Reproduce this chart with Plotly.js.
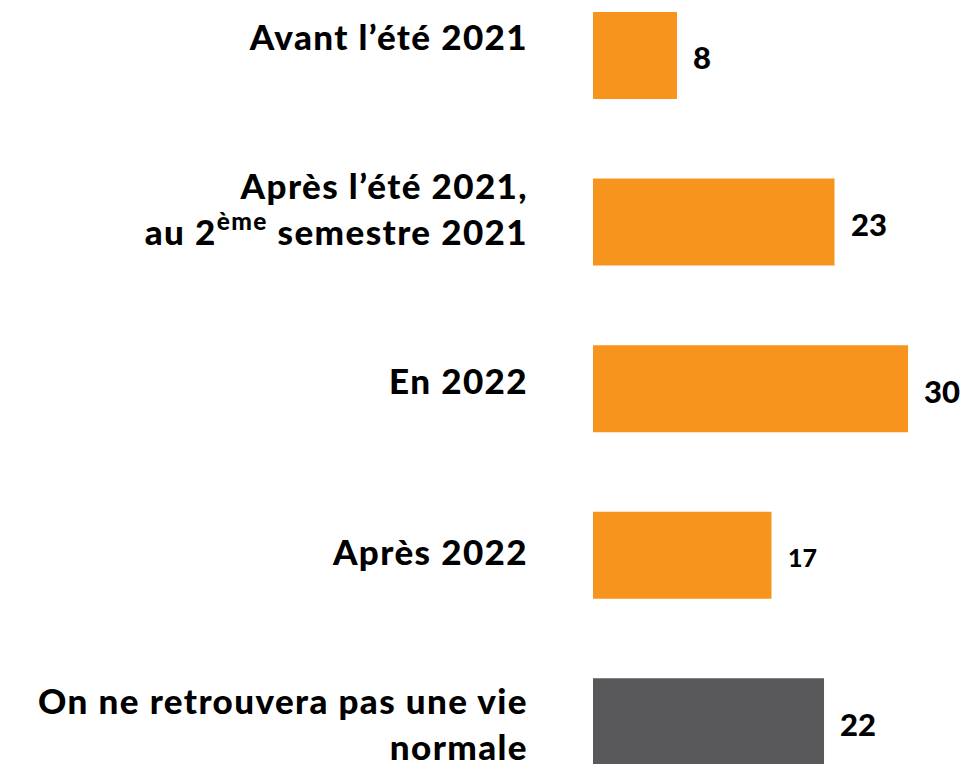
<!DOCTYPE html>
<html>
<head>
<meta charset="utf-8">
<script src="https://cdn.plot.ly/plotly-3.0.1.min.js"></script>
<style>
html,body{margin:0;padding:0;background:#fff;}
#chart{width:964px;height:764px;}
#chart .y2tick text{letter-spacing:1.4px;}
</style>
</head>
<body>
<div id="chart"></div>
<script>
const categories = [
  "Avant l’été 2021",
  "Après l’été 2021,<br>au 2<sup>ème</sup> semestre 2021",
  "En 2022",
  "Après 2022",
  "On ne retrouvera pas une vie<br>normale"
];
const values = [8, 23, 30, 17, 22];
const barColors = ["#F7941E", "#F7941E", "#F7941E", "#F7941E", "#59595B"];
const valueFontSizes = [31, 31, 31, 25, 31];

const FONT = "Lato, 'Open Sans', sans-serif";

const bars = {
  type: "bar", orientation: "h",
  x: values, y: categories, yaxis: "y",
  marker: {color: barColors, line: {width: 0}},
  hoverinfo: "skip", showlegend: false
};
const labelCarrier = {
  type: "bar", orientation: "h",
  x: values, y: categories, yaxis: "y2",
  marker: {color: "rgba(0,0,0,0)"},
  hoverinfo: "skip", showlegend: false
};

const annotations = values.map((v, i) => ({
  x: v, y: categories[i], xref: "x", yref: "y",
  text: String(v), showarrow: false,
  xanchor: "left", yanchor: "middle", xshift: 14, yshift: -2,
  font: {family: FONT, size: valueFontSizes[i], color: "#000", weight: 900}
}));

const layout = {
  width: 964, height: 764,
  margin: {l: 593, r: 0, t: 0, b: 0, pad: 0},
  paper_bgcolor: "#fff", plot_bgcolor: "#fff",
  bargap: 0.478,
  showlegend: false,
  xaxis: {range: [0, 35.33], visible: false, fixedrange: true},
  yaxis: {
    type: "category", categoryorder: "array", categoryarray: categories,
    range: [4.253, -0.333], showticklabels: false, showgrid: false,
    zeroline: false, showline: false, ticks: ""
  },
  yaxis2: {
    type: "category", categoryorder: "array", categoryarray: categories,
    overlaying: "y", side: "left",
    range: [4.228, -0.2213], showgrid: false, zeroline: false, showline: false,
    ticks: "", ticklabelstandoff: 64,
    tickfont: {family: FONT, size: 35, color: "#000", weight: 900}
  },
  annotations: annotations
};

Plotly.newPlot("chart", [bars, labelCarrier], layout, {displayModeBar: false, staticPlot: true});
</script>
</body>
</html>
